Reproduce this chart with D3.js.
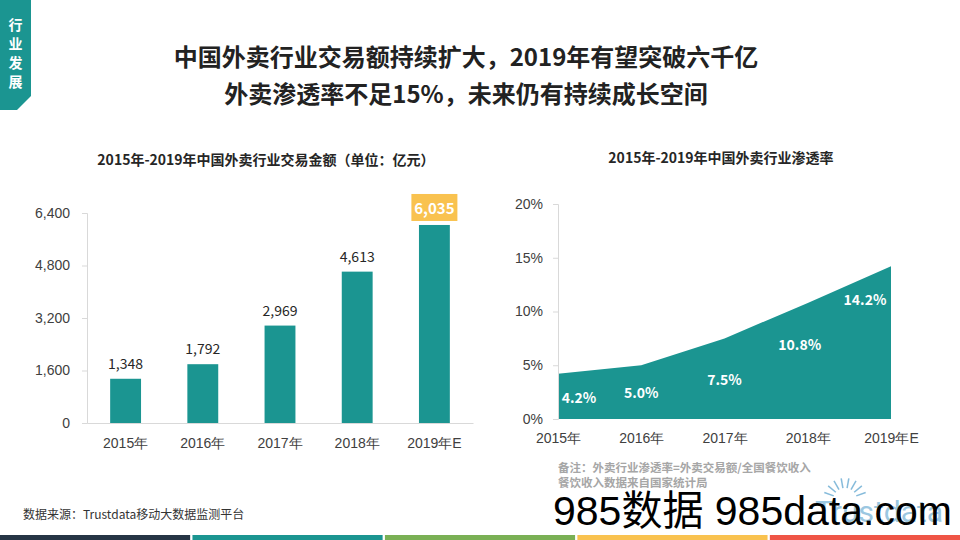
<!DOCTYPE html>
<html>
<head>
<meta charset="utf-8">
<script src="https://cdn.jsdelivr.net/npm/d3@7/dist/d3.min.js"></script>
<style>
  html, body { margin: 0; padding: 0; background: #fff; }
  svg { display: block; font-family: "Noto Sans CJK SC", "Noto Sans", sans-serif; }
</style>
</head>
<body>
<svg id="viz" width="960" height="540"></svg>
<script>
// 外卖行业交易额 + 渗透率

const YEARS = ["2015年", "2016年", "2017年", "2018年", "2019年E"];
const GMV = [1348, 1792, 2969, 4613, 6035];            // 亿元
const GMV_TICKS = [0, 1600, 3200, 4800, 6400];
const RATE = [4.2, 5.0, 7.5, 10.8, 14.2];              // %
const RATE_TICKS = [0, 5, 10, 15, 20];
const RATE_LABEL_DY = [24, 28, 42, 42, 34];            // label drop below the line

const TEAL = "#1b9591";
const YELLOW = "#f9c24f";
const AXIS = "#d9d9d9";
const TXT = "#404040";

const svg = d3.select("#viz");

// side tab
svg.append("path")
  .attr("d", "M0,0 L31,0 L31,96 L17,110 L0,110 Z")
  .attr("fill", TEAL);
svg.append("g").selectAll("text")
  .data(["行", "业", "发", "展"])
  .enter().append("text")
  .attr("x", 15.5)
  .attr("y", (d, i) => 30 + i * 19)
  .attr("text-anchor", "middle")
  .attr("fill", "#fff")
  .attr("font-size", 14)
  .attr("font-weight", "bold")
  .text(d => d);

// headline
svg.append("g").selectAll("text")
  .data(["中国外卖行业交易额持续扩大，2019年有望突破六千亿", "外卖渗透率不足15%，未来仍有持续成长空间"])
  .enter().append("text")
  .attr("x", 466)
  .attr("y", (d, i) => 66 + i * 37)
  .attr("text-anchor", "middle")
  .attr("fill", "#222")
  .attr("font-size", 24)
  .attr("font-weight", "bold")
  .text(d => d);

// ---- left: bar chart ----
const bx = d3.scaleBand().domain(YEARS).range([87, 473]).paddingInner(0.6).paddingOuter(0.3);
const by = d3.scaleLinear().domain([0, 6400]).range([423, 213]);

svg.append("text")
  .attr("x", 266).attr("y", 165)
  .attr("text-anchor", "middle")
  .attr("fill", "#262626")
  .attr("font-size", 14)
  .attr("font-weight", "bold")
  .text("2015年-2019年中国外卖行业交易金额（单位：亿元）");

const gy = svg.append("g")
  .attr("transform", "translate(87,0)")
  .call(d3.axisLeft(by).tickValues(GMV_TICKS).tickSize(5).tickPadding(12).tickFormat(d3.format(",")));
gy.select(".domain").attr("stroke", AXIS);
gy.selectAll(".tick line").attr("stroke", AXIS);
gy.selectAll(".tick text").attr("fill", TXT).attr("font-size", 14).attr("font-family", "inherit");

const gx = svg.append("g")
  .attr("transform", "translate(0,423)")
  .call(d3.axisBottom(bx).tickSize(0).tickPadding(15));
gx.select(".domain").attr("stroke", AXIS);
gx.selectAll(".tick text").attr("fill", TXT).attr("font-size", 14).attr("font-family", "inherit");

svg.append("g").selectAll("rect")
  .data(GMV)
  .enter().append("rect")
  .attr("x", (d, i) => bx(YEARS[i]))
  .attr("y", d => by(d))
  .attr("width", bx.bandwidth())
  .attr("height", d => by(0) - by(d))
  .attr("fill", TEAL);

const last = GMV.length - 1;
svg.append("g").selectAll("text")
  .data(GMV.slice(0, last))
  .enter().append("text")
  .attr("x", (d, i) => bx(YEARS[i]) + bx.bandwidth() / 2)
  .attr("y", d => by(d) - 10)
  .attr("text-anchor", "middle")
  .attr("fill", "#262626")
  .attr("font-size", 14)
  .text(d => d3.format(",")(d));

const cx = bx(YEARS[last]) + bx.bandwidth() / 2;
svg.append("rect")
  .attr("x", cx - 23).attr("y", by(GMV[last]) - 31)
  .attr("width", 46).attr("height", 27)
  .attr("fill", YELLOW);
svg.append("text")
  .attr("x", cx).attr("y", by(GMV[last]) - 11)
  .attr("text-anchor", "middle")
  .attr("fill", "#fff")
  .attr("font-size", 15)
  .attr("font-weight", "bold")
  .text(d3.format(",")(GMV[last]));

// ---- right: area chart ----
const ax = d3.scalePoint().domain(YEARS).range([558, 891]);
const ay = d3.scaleLinear().domain([0, 20]).range([419, 204]);

svg.append("text")
  .attr("x", 721).attr("y", 163)
  .attr("text-anchor", "middle")
  .attr("fill", "#262626")
  .attr("font-size", 14)
  .attr("font-weight", "bold")
  .text("2015年-2019年中国外卖行业渗透率");

const area = d3.area()
  .x((d, i) => ax(YEARS[i]))
  .y0(ay(0))
  .y1(d => ay(d));

svg.append("path")
  .datum(RATE)
  .attr("d", area)
  .attr("fill", TEAL);

const ry = svg.append("g")
  .attr("transform", "translate(558,0)")
  .call(d3.axisLeft(ay).tickValues(RATE_TICKS).tickSize(5).tickPadding(10).tickFormat(d => d + "%"));
ry.select(".domain").attr("stroke", AXIS);
ry.selectAll(".tick line").attr("stroke", AXIS);
ry.selectAll(".tick text").attr("fill", TXT).attr("font-size", 14).attr("font-family", "inherit");

const rx = svg.append("g")
  .attr("transform", "translate(0,419)")
  .call(d3.axisBottom(ax).tickSize(0).tickPadding(14));
rx.select(".domain").remove();
rx.selectAll(".tick text").attr("fill", TXT).attr("font-size", 14).attr("font-family", "inherit");

svg.append("g").selectAll("text")
  .data(RATE)
  .enter().append("text")
  .attr("x", (d, i) => ax(YEARS[i]) + (i === 0 ? 21 : i === last ? -26 : i === 3 ? -8 : 0))
  .attr("y", (d, i) => ay(d) + RATE_LABEL_DY[i] + 5)
  .attr("text-anchor", "middle")
  .attr("fill", "#fff")
  .attr("font-size", 14)
  .attr("font-weight", "bold")
  .text(d => d.toFixed(1) + "%");

// notes
svg.append("g").selectAll("text")
  .data(["备注：外卖行业渗透率=外卖交易额/全国餐饮收入", "餐饮收入数据来自国家统计局"])
  .enter().append("text")
  .attr("x", 558)
  .attr("y", (d, i) => 472 + i * 15)
  .attr("fill", "#a6a6a6")
  .attr("font-size", 11.5)
  .attr("font-weight", "bold")
  .text(d => d);

svg.append("text")
  .attr("x", 23).attr("y", 519)
  .attr("fill", "#333")
  .attr("font-size", 12)
  .text("数据来源：Trustdata移动大数据监测平台");

// faint logo
const logo = svg.append("g").attr("opacity", 0.75);
logo.selectAll("line")
  .data(d3.range(-70, 71, 20))
  .enter().append("line")
  .attr("x1", d => 845 + 12 * Math.sin(d * Math.PI / 180))
  .attr("y1", d => 500 - 12 * Math.cos(d * Math.PI / 180))
  .attr("x2", d => 845 + 22 * Math.sin(d * Math.PI / 180))
  .attr("y2", d => 500 - 22 * Math.cos(d * Math.PI / 180))
  .attr("stroke", "#5ea5cf")
  .attr("stroke-width", 1.5);
logo.append("text")
  .attr("x", 815).attr("y", 522)
  .attr("fill", "#7ab5d8")
  .attr("font-size", 30)
  .attr("font-family", "Roboto, sans-serif")
  .text("Trustdata");

// watermark
svg.append("text")
  .attr("x", 553).attr("y", 525)
  .attr("fill", "#000")
  .attr("font-size", 41)
  .attr("font-family", "'Liberation Sans', 'Noto Sans CJK SC', sans-serif")
  .text("985数据 985data.com");

// bottom stripes
const STRIPES = ["#263545", TEAL, "#7ab055", YELLOW, "#ef5546"];
const sx = d3.scaleBand().domain(d3.range(STRIPES.length)).range([0, 960]).paddingInner(0.012);
svg.append("g").selectAll("rect")
  .data(STRIPES)
  .enter().append("rect")
  .attr("x", (d, i) => sx(i))
  .attr("y", 535)
  .attr("width", sx.bandwidth())
  .attr("height", 5)
  .attr("fill", d => d);
</script>
</body>
</html>
